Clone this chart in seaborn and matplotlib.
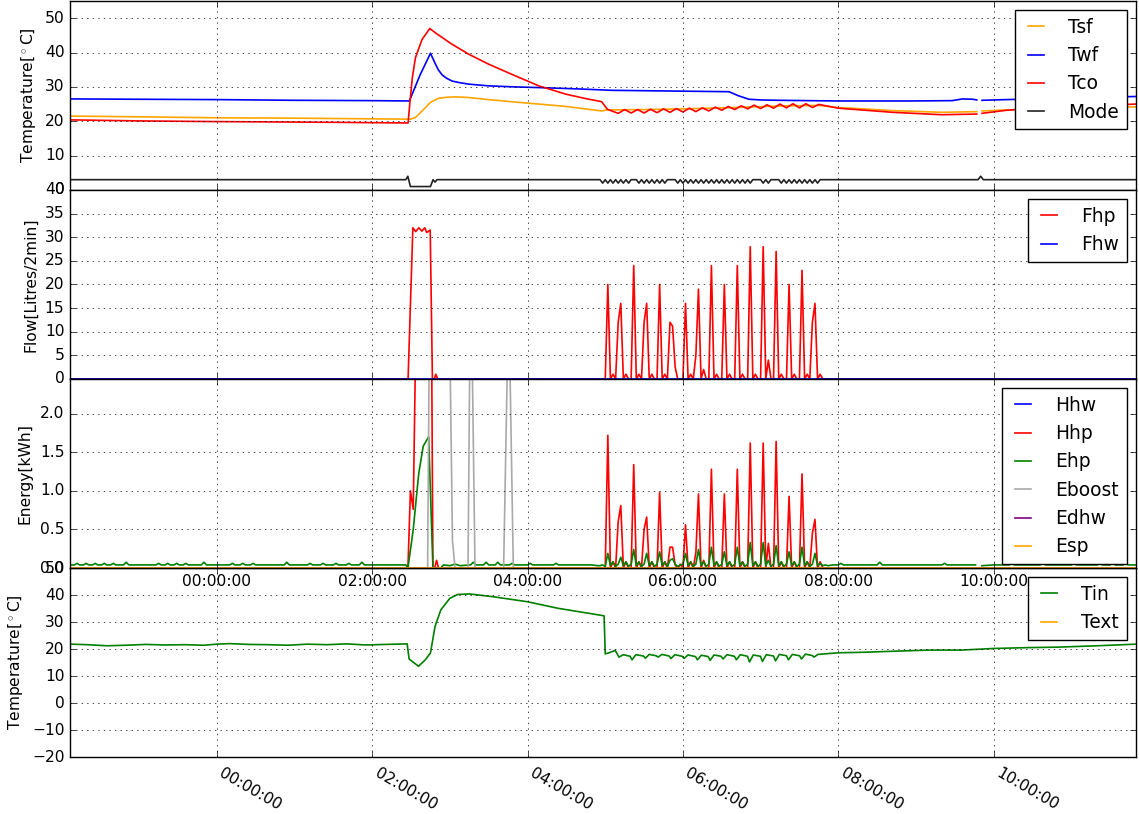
import numpy as np
import pandas as pd
import matplotlib
matplotlib.use("Agg")
import matplotlib.pyplot as plt
import matplotlib.dates as mdates
import matplotlib.ticker as mticker
import seaborn as sns

nan = float("nan")

# ---------------- data (times in minutes relative to midnight) ----------------
X_RANGE = [-113.4, 710.0]

# panel 1 : temperatures
TSF_T = [-113, -60, 0, 60, 120, 149.5, 153.4, 158.6, 165, 171.4, 178, 184.3, 194.6, 210, 230,
         248.7, 270, 297.2, 301, 330, 360, 400, 440, 465, 480, 522, 560, 587, 589, 591, 610, 640, 680, 710]
TSF_V = [21.5, 21.3, 21.0, 20.9, 20.7, 20.6, 21.1, 23.0, 25.5, 26.7, 27.0, 27.1, 26.9, 26.3, 25.6,
         25.0, 24.3, 23.0, 23.3, 23.4, 23.6, 24.0, 24.5, 24.6, 24.0, 23.1, 22.6, 22.8, nan, 23.0, 23.3, 23.6, 23.9, 24.2]

TWF_T = [-113, -60, 0, 60, 120, 148.7, 157, 165, 168.9, 171, 174, 177.5, 181.7, 188, 194.6, 210, 230,
         248.7, 280, 305, 350, 395.6, 403, 411, 420, 434, 480, 535, 568, 576, 584, 587, 589, 591, 610, 640, 680, 710]
TWF_V = [26.5, 26.4, 26.3, 26.1, 26.0, 25.9, 33.5, 39.8, 36.6, 35.0, 33.5, 32.5, 31.7, 31.2, 30.8, 30.3, 30.0,
         29.8, 29.4, 29.0, 28.8, 28.6, 27.4, 26.4, 26.2, 26.1, 25.9, 25.9, 26.0, 26.5, 26.4, 26.2, nan, 26.1, 26.3, 26.6, 27.0, 27.2]

TCO_T = [-113, -60, 0, 88.6, 147.7, 149, 151, 153.4, 158.5, 164.5, 168.9, 181.7, 194.6, 210, 230, 248.7,
         269.4, 284.8, 297.2, 301.6, 305,
         310, 315, 320, 325, 330, 335, 340, 345, 350, 355, 360, 365, 370, 375, 380, 385, 390, 395,
         400, 405, 410, 415, 420, 425, 430, 435, 440, 445, 450, 455, 460, 465,
         480, 522, 560, 587, 589, 591, 610, 640, 680, 710]
TCO_V = [20.4, 20.1, 19.9, 19.7, 19.5, 25.0, 32.7, 38.5, 43.8, 47.0, 45.7, 42.4, 39.5, 36.6, 33.3, 30.3,
         27.9, 26.6, 25.7, 23.5, 23.0,
         22.3, 23.4, 22.4, 23.4, 22.4, 23.5, 22.5, 23.6, 22.6, 23.7, 22.7, 23.8, 22.8, 23.9, 23.0, 24.1, 23.2, 24.3,
         23.4, 24.5, 23.6, 24.7, 23.7, 24.8, 23.8, 25.0, 23.9, 25.1, 23.9, 25.1, 24.0, 24.9,
         23.8, 22.6, 21.9, 22.1, nan, 22.3, 23.2, 24.0, 24.6, 25.0]

# 2-minute samples during the cycling period (296 ... 470 min)
GRID_T = list(range(296, 472, 2))

MODE_PRE_T = [-113, 146, 147.5, 149.5, 165, 167, 168.5, 170, 296]
MODE_PRE_V = [3, 3, 4, 1, 1, 3, 2.3, 3, 3]
# values for 298 ... 470 min
MODE_GRID_V = [2, 3, 2, 3, 2, 3, 2, 3, 2, 3, 2,
               3, 3, 3,
               2, 3, 2, 3, 2, 3, 2, 3, 2, 3, 2,
               3, 3, 3, 3,
               2, 3, 2, 3, 2, 3, 2, 3, 2, 3, 2, 3, 2, 3, 2, 3, 2, 3, 2, 3, 2, 3, 2, 3, 2, 3, 2, 3, 2,
               3, 3, 3, 3,
               2, 3, 2, 3,
               3, 3, 3,
               2, 3, 2, 3, 2, 3, 2, 3, 2, 3, 2, 3, 2, 3, 2,
               3, 3, 3]
MODE_POST_T = [588, 590, 592, 710]
MODE_POST_V = [3, 4, 3, 3]

# panel 2 : flow
FHP_PRE_T = [-113, 147.7, 151.4, 153.6, 156, 158.3, 160.6, 162.1, 164.8, 166.5, 168, 169.1, 170.6]
FHP_PRE_V = [0, 0, 32, 31.2, 32, 31.3, 32, 31, 31.5, 0, 0, 1, 0]
FHP_GRID_V = [0, 0, 0,
              20, 0, 1, 0, 12,
              16, 0, 1, 0, 0,
              24, 0, 1, 0, 12,
              16, 0, 1, 0, 0,
              20, 0, 1, 0, 12,
              11.2, 2.5, 0, 0, 0,
              16, 0, 1, 0, 5,
              19, 0, 2, 0, 0,
              24, 0, 1, 0, 0,
              20, 0, 1, 0, 0,
              24, 0, 1, 0, 0,
              28, 0, 1, 0, 0,
              28, 0, 4, 0, 0,
              27, 0, 1, 0, 0,
              20, 0, 1, 0, 0,
              23, 0, 1, 0, 12,
              16, 0, 1, 0, 0]
FHP_POST_T = [710]
FHP_POST_V = [0]
FHW_T = [-113, 710]
FHW_V = [0, 0]

# panel 3 : energy
HHW_T = [-113, 710]
HHW_V = [0, 0]
HHP_PRE_T = [-113, 147.6, 149.5, 151.7, 154.5, 165.5, 166.9, 168.3, 169.7, 171.2]
HHP_PRE_V = [0, 0, 1.0, 0.76, 4.0, 4.0, 0, 0, 0.1, 0]
HHP_GRID_V = [0, 0, 0,
              1.72, 0, 0.08, 0, 0.6,
              0.81, 0, 0.08, 0, 0,
              1.34, 0, 0.08, 0, 0.5,
              0.66, 0, 0.08, 0, 0,
              0.98, 0, 0.08, 0, 0.27,
              0.27, 0.04, 0, 0.05, 0,
              0.56, 0, 0.08, 0, 0.2,
              0.96, 0, 0.1, 0, 0,
              1.28, 0, 0.08, 0, 0,
              0.96, 0, 0.08, 0, 0,
              1.28, 0, 0.08, 0, 0,
              1.62, 0, 0.08, 0, 0,
              1.62, 0, 0.32, 0, 0,
              1.64, 0, 0.08, 0, 0,
              0.93, 0, 0.08, 0, 0,
              1.22, 0, 0.08, 0, 0.45,
              0.63, 0, 0.08, 0, 0]
HHP_POST_T = [710]
HHP_POST_V = [0]

EHP_PRE_T = [-113, -110, -108, -106, -103, -101, -99, -96, -94, -92, -89, -87, -85, -82, -80, -78,
             -72, -70, -68, -47, -45, -43, -40, -38, -36, -33, -31, -29, -26, -24, -22, -12, -10, -8,
             10, 12, 14, 18, 20, 22, 26, 28, 30, 52, 54, 56, 70, 72, 74, 80, 82, 84, 90, 92, 94,
             100, 102, 104, 110, 112, 114, 146, 147.6, 151.7, 155.9, 159.4, 163.6, 166.9, 173,
             175, 180, 184, 188, 196, 198, 200, 206, 208, 210, 215, 217, 219, 226, 228, 230,
             240, 242, 244, 260, 262, 264, 280, 290, 294]
EHP_PRE_V = [0.04, 0.04, 0.06, 0.04, 0.04, 0.06, 0.04, 0.04, 0.06, 0.04, 0.04, 0.06, 0.04, 0.04, 0.06, 0.04,
             0.04, 0.075, 0.04, 0.04, 0.06, 0.04, 0.04, 0.06, 0.04, 0.04, 0.06, 0.04, 0.04, 0.06, 0.04, 0.04, 0.075, 0.04,
             0.04, 0.06, 0.04, 0.04, 0.06, 0.04, 0.04, 0.06, 0.04, 0.04, 0.075, 0.04, 0.04, 0.06, 0.04, 0.04, 0.06, 0.04,
             0.04, 0.06, 0.04, 0.04, 0.06, 0.04, 0.04, 0.075, 0.04, 0.04, 0.0, 0.5, 1.22, 1.58, 1.7, 0.0, 0.0,
             0.04, 0.03, 0.05, 0.03, 0.04, 0.075, 0.04, 0.04, 0.075, 0.04, 0.04, 0.075, 0.04, 0.04, 0.06, 0.04,
             0.04, 0.06, 0.04, 0.04, 0.06, 0.04, 0.04, 0.04, 0.03]
EHP_GRID_V = [0.03, 0.04, 0.02,
              0.19, 0.03, 0.08, 0.02, 0.05,
              0.14, 0.03, 0.08, 0.02, 0.05,
              0.24, 0.03, 0.08, 0.02, 0.05,
              0.19, 0.03, 0.08, 0.02, 0.05,
              0.21, 0.03, 0.08, 0.02, 0.10,
              0.12, 0.05, 0.02, 0.04, 0.05,
              0.19, 0.03, 0.08, 0.02, 0.05,
              0.24, 0.03, 0.08, 0.02, 0.05,
              0.27, 0.03, 0.08, 0.02, 0.05,
              0.21, 0.03, 0.08, 0.02, 0.05,
              0.27, 0.03, 0.08, 0.02, 0.05,
              0.33, 0.03, 0.08, 0.02, 0.05,
              0.33, 0.03, 0.10, 0.02, 0.05,
              0.29, 0.03, 0.08, 0.02, 0.05,
              0.21, 0.03, 0.08, 0.02, 0.05,
              0.27, 0.03, 0.08, 0.02, 0.05,
              0.19, 0.03, 0.06, 0.03, 0.04]
EHP_POST_T = [472, 476, 480, 482, 484, 500, 510, 512, 514, 520, 530, 545, 560, 562, 564, 580, 586, 588,
              591, 600, 612, 614, 616, 636, 638, 640, 660, 662, 664, 680, 682, 684, 690, 692, 694,
              700, 702, 704, 710]
EHP_POST_V = [0.03, 0.04, 0.04, 0.06, 0.04, 0.04, 0.04, 0.075, 0.04, 0.04, 0.04, 0.04, 0.04, 0.06, 0.04, 0.04, 0.04, nan,
              0.03, 0.04, 0.04, 0.06, 0.04, 0.04, 0.075, 0.04, 0.04, 0.06, 0.04, 0.04, 0.06, 0.04, 0.04, 0.075, 0.04,
              0.04, 0.06, 0.04, 0.04]

EBOOST_T = [-113, 162.8, 164.1, 179.9, 182.0, 184.0, 194.0, 195.5, 197.0, 199.4, 221.5, 224.8, 226.0, 229.0, 710]
EBOOST_V = [0, 0, 3.0, 3.0, 0.35, 0, 0, 3.0, 3.0, 0, 0, 3.0, 3.0, 0, 0]
EDHW_T = [-113, 710]
EDHW_V = [0, 0]
ESP_T = [-113, 710]
ESP_V = [0, 0]

# panel 4 : indoor temperature
TIN_T = [-113, -100, -85, -70, -55, -40, -25, -10, 0, 10, 25, 40, 55, 70, 85, 100, 115, 130, 147,
         148.5, 155.8, 161, 165, 168.5, 173, 180, 186, 195, 212.8, 240, 263.3, 299.1, 300, 303, 307.7, 310.6, 314,
         319.2, 320.7, 323.7, 329.5, 331, 334, 339.3, 340.8, 343.8, 349.3, 350.8, 353.8,
         359.4, 360.9, 363.9, 369.7, 371.2, 374.2, 379.5, 381, 384, 389.5, 391, 394,
         399.8, 401.3, 404.3, 409.9, 411.4, 414.4, 419.9, 421.4, 424.4, 430, 431.5, 434.5,
         440, 441.5, 444.5, 450.1, 451.6, 454.6, 459.8, 461.3, 464.3,
         480, 500, 530, 550, 575, 600, 625, 650, 680, 710]
TIN_V = [21.8, 21.6, 21.2, 21.4, 21.7, 21.5, 21.6, 21.4, 21.8, 22.0, 21.7, 21.6, 21.4, 21.8, 21.6, 21.9, 21.5, 21.7, 21.9,
         16.3, 13.6, 16.0, 18.5, 28.3, 34.5, 38.8, 40.2, 40.4, 39.4, 37.5, 35.1, 32.3, 18.2, 18.6, 19.5, 17.0, 17.9,
         17.3, 16.0, 17.9, 17.4, 16.6, 18.0, 17.5, 17.0, 18.0, 17.4, 16.5, 17.9,
         17.3, 16.5, 17.8, 17.2, 16.0, 17.7, 17.2, 15.8, 17.8, 17.3, 16.3, 17.9,
         17.3, 16.0, 17.9, 17.3, 15.2, 17.8, 17.3, 15.4, 17.9, 17.4, 15.6, 18.0,
         17.5, 16.0, 18.0, 17.5, 16.3, 18.1, 17.6, 17.0, 18.0,
         18.6, 18.8, 19.3, 19.6, 19.6, 20.2, 20.5, 20.7, 21.2, 21.8]

# ---------------- style ----------------
plt.style.use("classic")
plt.rcParams.update({
    "figure.facecolor": "white",
    "savefig.facecolor": "white",
    "font.size": 11.2,
    "legend.fontsize": "large",
    "lines.linewidth": 1.2,
})

BASE = pd.Timestamp("2016-02-20")
LW = 1.2


def ts(mins):
    return BASE + pd.to_timedelta(np.asarray(mins, dtype=float), unit="m")


def draw(ax, t, v, color, label):
    n = min(len(t), len(v))
    t = np.asarray(t[:n], dtype=float)
    v = np.asarray(v[:n], dtype=float)
    gaps = list(np.where(np.isnan(v))[0])
    bounds = [-1] + gaps + [n]
    first = True
    for a, b in zip(bounds[:-1], bounds[1:]):
        if b - (a + 1) < 1:
            continue
        kw = {"label": label} if first else {}
        sns.lineplot(x=ts(t[a + 1:b]), y=v[a + 1:b], ax=ax, color=color, lw=LW,
                     estimator=None, sort=False, legend=False, **kw)
        first = False


fig = plt.figure(figsize=(11.39, 8.14), dpi=100)
L, W, H = 0.0615, 0.9359, 0.2322
bottoms = [0.0700 + 3 * H, 0.0700 + 2 * H, 0.0700 + H, 0.0700]
ax4 = fig.add_axes([L, bottoms[3], W, H])
ax1 = fig.add_axes([L, bottoms[0], W, H], sharex=ax4)
ax2 = fig.add_axes([L, bottoms[1], W, H], sharex=ax4)
ax3 = fig.add_axes([L, bottoms[2], W, H], sharex=ax4)
ax3.set_zorder(3)

# panel 1
draw(ax1, TSF_T, TSF_V, "orange", "Tsf")
draw(ax1, TWF_T, TWF_V, "blue", "Twf")
draw(ax1, TCO_T, TCO_V, "red", "Tco")
draw(ax1, MODE_PRE_T + GRID_T[1:] + MODE_POST_T, MODE_PRE_V + MODE_GRID_V + MODE_POST_V, "#222222", "Mode")
ax1.set_ylim(0, 55)
ax1.yaxis.set_major_locator(mticker.MultipleLocator(10))
ax1.set_ylabel("Temperature[$^\\circ$C]")

# panel 2
draw(ax2, FHP_PRE_T + GRID_T + FHP_POST_T, FHP_PRE_V + FHP_GRID_V + FHP_POST_V, "red", "Fhp")
draw(ax2, FHW_T, FHW_V, "blue", "Fhw")
ax2.set_ylim(0, 40)
ax2.yaxis.set_major_locator(mticker.MultipleLocator(5))
ax2.set_ylabel("Flow[Litres/2min]")

# panel 3
draw(ax3, HHW_T, HHW_V, "blue", "Hhw")
draw(ax3, HHP_PRE_T + GRID_T + HHP_POST_T, HHP_PRE_V + HHP_GRID_V + HHP_POST_V, "red", "Hhp")
draw(ax3, EHP_PRE_T + GRID_T + EHP_POST_T, EHP_PRE_V + EHP_GRID_V + EHP_POST_V, "green", "Ehp")
draw(ax3, EBOOST_T, EBOOST_V, "darkgray", "Eboost")
draw(ax3, EDHW_T, EDHW_V, "purple", "Edhw")
draw(ax3, ESP_T, ESP_V, "orange", "Esp")
ax3.set_ylim(0, 2.45)
ax3.yaxis.set_major_locator(mticker.MultipleLocator(0.5))
ax3.set_ylabel("Energy[kWh]")

# panel 4
draw(ax4, TIN_T, TIN_V, "green", "Tin")
ax4.plot([], [], color="orange", lw=LW, label="Text")
ax4.set_ylim(-20, 50)
ax4.yaxis.set_major_locator(mticker.MultipleLocator(10))
ax4.set_ylabel("Temperature[$^\\circ$C]")

# shared time axis
xl = ts(X_RANGE)
ax4.set_xlim(xl[0], xl[1])
ax4.xaxis.set_major_locator(mdates.HourLocator(byhour=list(range(0, 24, 2))))
ax4.xaxis.set_major_formatter(mdates.DateFormatter("%H:%M:%S"))

for ax in (ax1, ax2, ax3, ax4):
    ax.grid(True)
    ax.set_xlabel("")
    ax.tick_params(direction="in", top=True, right=True)
    ax.legend(loc="upper right", handlelength=1.45, handletextpad=1.0)

ax1.tick_params(axis="x", labelbottom=False)
ax2.tick_params(axis="x", labelbottom=False)
ax3.tick_params(axis="x", labelbottom=True, labelrotation=0)
ax4.tick_params(axis="x", labelbottom=True, labelrotation=-30, pad=6)
for lab in ax4.get_xticklabels():
    lab.set_ha("left")

fig.savefig("out.png", dpi=100, facecolor="white")
